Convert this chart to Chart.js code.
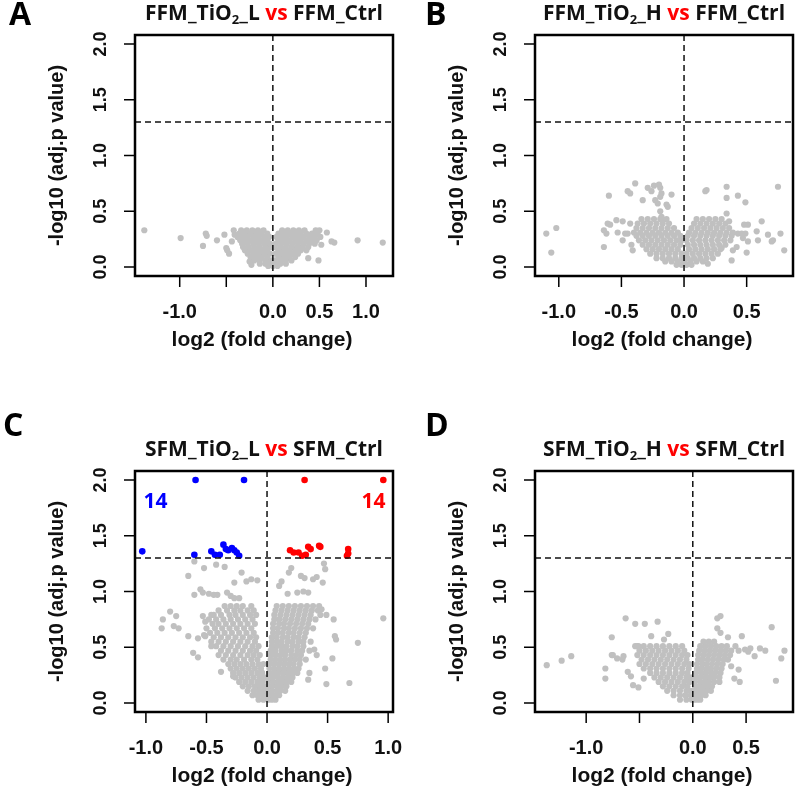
<!DOCTYPE html>
<html>
<head>
<meta charset="utf-8">
<script src="https://cdn.jsdelivr.net/npm/chart.js@4.4.1/dist/chart.umd.min.js"></script>
<style>
  body { margin: 0; background: #fff; width: 800px; height: 800px; position: relative; overflow: hidden; }
  canvas { position: absolute; }
</style>
</head>
<body>
<canvas id="pB" width="400" height="400" style="left:400px;top:0"></canvas>
<canvas id="pD" width="400" height="400" style="left:400px;top:400px"></canvas>
<canvas id="pA" width="412" height="400" style="left:0;top:0"></canvas>
<canvas id="pC" width="412" height="400" style="left:0;top:400px"></canvas>
<script>
// ---- data: dense grey clouds as [y, [x...]] rows, scattered points as [x, y] ----
const yTicks = [0, 0.5, 1.0, 1.5, 2.0];
const fcCut = 0;      // vertical dashed line (log2 fc)
const pCut = 1.3;     // horizontal dashed line (-log10 0.05)

const cloudA = [
  [0.33, [-0.34,-0.28,-0.22,-0.16,-0.10,0.10,0.16,0.22,0.28,0.34,0.46,0.50]],
  [0.30, [-0.36,-0.30,-0.24,-0.18,-0.12,-0.06,0.06,0.12,0.18,0.24,0.30,0.36,0.42,0.48]],
  [0.27, [-0.38,-0.33,-0.27,-0.21,-0.15,-0.09,-0.04,0.04,0.09,0.15,0.21,0.27,0.33,0.39,0.45,0.51]],
  [0.24, [-0.35,-0.30,-0.24,-0.18,-0.12,-0.06,0.06,0.12,0.18,0.24,0.30,0.36,0.42,0.47]],
  [0.21, [-0.33,-0.27,-0.21,-0.15,-0.09,-0.03,0.03,0.09,0.15,0.21,0.27,0.33,0.39,0.45]],
  [0.18, [-0.32,-0.26,-0.20,-0.14,-0.08,-0.02,0.02,0.08,0.14,0.20,0.26,0.32,0.38]],
  [0.15, [-0.30,-0.24,-0.18,-0.12,-0.06,0.06,0.12,0.18,0.24,0.30,0.36]],
  [0.12, [-0.27,-0.21,-0.15,-0.09,-0.03,0.03,0.09,0.15,0.21,0.27]],
  [0.09, [-0.24,-0.18,-0.12,-0.06,0.06,0.12,0.18,0.24]],
  [0.06, [-0.20,-0.14,-0.08,-0.02,0.02,0.08,0.14,0.20]],
  [0.03, [-0.14,-0.08,-0.03,0.03,0.08,0.14]],
  [0.01, [-0.05,0.00,0.05]]
];
const spreadA = [
  [-1.38,0.33],[-0.99,0.26],[-0.75,0.19],[-0.72,0.30],[-0.71,0.28],[-0.60,0.24],[-0.52,0.29],
  [-0.50,0.17],[-0.49,0.15],[-0.47,0.12],[-0.44,0.23],[-0.42,0.33],[-0.41,0.29],[-0.25,0.05],
  [-0.23,0.02],[0.58,0.31],[0.63,0.23],[0.66,0.22],[0.49,0.06],[0.52,0.20],[0.91,0.24],
  [1.18,0.22],[0.38,0.08]
];

const cloudB = [
  [0.43, [-0.34,-0.29,-0.24,-0.19,-0.14,0.10,0.15,0.20,0.25,0.30]],
  [0.39, [-0.37,-0.32,-0.27,-0.22,-0.17,-0.12,0.08,0.13,0.18,0.23,0.28,0.33]],
  [0.35, [-0.38,-0.33,-0.28,-0.23,-0.18,-0.13,-0.08,0.06,0.11,0.16,0.21,0.26,0.31,0.36]],
  [0.31, [-0.40,-0.35,-0.30,-0.25,-0.20,-0.15,-0.10,-0.05,0.04,0.09,0.14,0.19,0.24,0.29,0.34,0.39]],
  [0.28, [-0.38,-0.33,-0.28,-0.23,-0.18,-0.13,-0.08,-0.03,0.03,0.08,0.13,0.18,0.23,0.28,0.33,0.38]],
  [0.24, [-0.36,-0.31,-0.26,-0.21,-0.16,-0.11,-0.06,-0.02,0.02,0.07,0.12,0.17,0.22,0.27,0.32,0.37]],
  [0.20, [-0.33,-0.28,-0.23,-0.18,-0.13,-0.08,-0.03,0.03,0.08,0.13,0.18,0.23,0.28,0.33]],
  [0.16, [-0.30,-0.25,-0.20,-0.15,-0.10,-0.05,0.04,0.09,0.14,0.19,0.24,0.29]],
  [0.12, [-0.27,-0.22,-0.17,-0.12,-0.07,-0.02,0.02,0.07,0.12,0.17,0.22,0.27]],
  [0.08, [-0.22,-0.17,-0.12,-0.07,-0.02,0.03,0.08,0.13,0.18,0.23]],
  [0.05, [-0.15,-0.10,-0.05,0.00,0.05,0.10,0.15]],
  [0.02, [-0.06,-0.02,0.02,0.06]]
];
const spreadB = [
  [-1.10,0.30],[-1.02,0.35],[-1.06,0.13],[-0.60,0.64],[-0.64,0.33],[-0.62,0.30],[-0.64,0.18],
  [-0.61,0.39],[-0.59,0.38],[-0.54,0.42],[-0.53,0.31],[-0.49,0.41],[-0.49,0.24],[-0.47,0.30],
  [-0.45,0.30],[-0.45,0.68],[-0.43,0.66],[-0.39,0.75],[-0.42,0.20],[-0.41,0.15],[-0.43,0.39],
  [-0.33,0.60],[-0.29,0.71],[-0.26,0.68],[-0.24,0.73],[-0.20,0.74],[-0.19,0.71],[-0.23,0.60],
  [-0.21,0.57],[-0.18,0.66],[-0.19,0.63],[-0.14,0.56],[-0.13,0.54],[-0.10,0.65],[-0.19,0.50],
  [-0.18,0.45],[-0.17,0.42],[0.17,0.68],[0.18,0.69],[0.34,0.72],[0.34,0.62],[0.43,0.64],
  [0.49,0.58],[0.34,0.48],[0.36,0.41],[0.48,0.38],[0.51,0.38],[0.62,0.41],[0.75,0.72],
  [0.77,0.30],[0.80,0.15],[0.67,0.29],[0.70,0.23],[0.71,0.24],[0.58,0.32],[0.59,0.24],
  [0.50,0.13],[0.43,0.30],[0.46,0.30],[0.49,0.30],[0.51,0.23],[0.47,0.26],[0.38,0.06],
  [0.42,0.18],[0.39,0.15],[0.30,0.17],[0.19,0.03]
];

const cloudC = [
  [0.87, [-0.35,-0.30,-0.25,-0.20,-0.13,0.08,0.13,0.18,0.23,0.28,0.33,0.38,0.43]],
  [0.83, [-0.40,-0.33,-0.27,-0.22,-0.16,-0.11,0.07,0.12,0.17,0.22,0.27,0.32,0.37,0.42]],
  [0.79, [-0.46,-0.38,-0.31,-0.26,-0.20,-0.14,-0.09,0.06,0.11,0.16,0.21,0.26,0.31,0.36,0.44]],
  [0.75, [-0.48,-0.42,-0.36,-0.30,-0.24,-0.18,-0.12,0.06,0.10,0.15,0.20,0.25,0.30,0.35,0.40]],
  [0.71, [-0.45,-0.40,-0.34,-0.28,-0.22,-0.16,-0.10,0.05,0.10,0.14,0.19,0.24,0.29,0.34]],
  [0.67, [-0.50,-0.43,-0.37,-0.31,-0.25,-0.19,-0.13,0.05,0.09,0.14,0.18,0.23,0.28,0.33,0.38]],
  [0.63, [-0.47,-0.41,-0.35,-0.29,-0.23,-0.17,-0.11,0.05,0.09,0.13,0.18,0.22,0.27,0.32]],
  [0.59, [-0.44,-0.38,-0.32,-0.26,-0.20,-0.14,-0.09,0.04,0.08,0.13,0.17,0.22,0.26,0.31]],
  [0.55, [-0.46,-0.40,-0.34,-0.28,-0.22,-0.16,-0.10,0.04,0.08,0.12,0.17,0.21,0.26,0.30,0.36]],
  [0.51, [-0.42,-0.36,-0.30,-0.24,-0.18,-0.12,-0.07,0.04,0.08,0.12,0.16,0.21,0.25,0.30]],
  [0.47, [-0.38,-0.32,-0.26,-0.20,-0.14,-0.09,0.03,0.07,0.12,0.16,0.20,0.25,0.29,0.35]],
  [0.43, [-0.40,-0.34,-0.28,-0.22,-0.16,-0.11,-0.06,0.03,0.07,0.11,0.15,0.20,0.24,0.28]],
  [0.39, [-0.36,-0.30,-0.25,-0.19,-0.13,-0.08,0.03,0.07,0.11,0.15,0.19,0.23,0.27,0.32]],
  [0.35, [-0.32,-0.27,-0.22,-0.17,-0.12,-0.07,-0.03,0.02,0.06,0.10,0.14,0.18,0.22,0.27]],
  [0.31, [-0.30,-0.25,-0.20,-0.15,-0.10,-0.05,0.02,0.06,0.10,0.14,0.18,0.22,0.26]],
  [0.27, [-0.28,-0.23,-0.18,-0.13,-0.08,-0.04,0.02,0.06,0.09,0.13,0.17,0.21,0.25]],
  [0.23, [-0.26,-0.21,-0.16,-0.11,-0.06,-0.02,0.02,0.05,0.09,0.13,0.17,0.21]],
  [0.19, [-0.23,-0.18,-0.13,-0.08,-0.04,0.01,0.05,0.09,0.12,0.16,0.20]],
  [0.15, [-0.20,-0.15,-0.10,-0.06,-0.02,0.01,0.04,0.08,0.12,0.16]],
  [0.11, [-0.16,-0.11,-0.07,-0.03,0.01,0.04,0.08,0.11,0.15]],
  [0.07, [-0.12,-0.08,-0.04,-0.01,0.01,0.04,0.07,0.10]],
  [0.03, [-0.07,-0.03,0.01,0.04,0.07]]
];
const spreadC = [
  [-0.60,1.27],[-0.52,1.21],[-0.42,1.24],[-0.35,1.22],[-0.27,1.08],[-0.21,1.17],[-0.13,1.11],
  [-0.08,1.10],[-0.65,1.14],[-0.60,0.97],[-0.55,1.02],[-0.53,0.99],[-0.48,0.98],[-0.44,0.97],
  [-0.41,0.97],[-0.33,0.99],[-0.30,0.96],[-0.27,0.94],[-0.23,0.94],[-0.80,0.82],[-0.86,0.75],
  [-0.87,0.67],[-0.75,0.78],[-0.73,0.67],[-0.77,0.69],[-0.65,0.60],[-0.57,0.58],[-0.52,0.61],
  [-0.51,0.60],[-0.61,0.45],[-0.57,0.41],[-0.53,0.78],[-0.51,0.73],[-0.44,0.79],[-0.46,0.51],
  [-0.38,0.28],[-0.28,0.24],[-0.17,1.09],[0.12,1.09],[0.10,1.05],[0.18,1.17],[0.20,1.21],
  [0.28,1.14],[0.31,1.12],[0.38,1.11],[0.41,1.13],[0.46,1.08],[0.47,1.25],[0.48,1.20],
  [0.17,0.98],[0.25,0.99],[0.30,1.00],[0.34,0.99],[0.45,0.84],[0.49,0.79],[0.55,0.75],
  [0.96,0.76],[0.56,0.60],[0.57,0.57],[0.75,0.54],[0.54,0.40],[0.48,0.31],[0.49,0.17],
  [0.68,0.18],[0.39,0.48],[0.41,0.43],[0.35,0.27],[0.34,0.21]
];
const downC = [
  [-0.59,2.00],[-0.19,2.00],[-1.03,1.36],[-0.60,1.33],[-0.46,1.36],[-0.43,1.33],[-0.39,1.33],
  [-0.36,1.42],[-0.34,1.38],[-0.32,1.37],[-0.29,1.39],[-0.27,1.37],[-0.25,1.35],[-0.23,1.32]
];
const upC = [
  [0.31,2.00],[0.96,2.00],[0.19,1.37],[0.22,1.35],[0.26,1.35],[0.29,1.32],[0.32,1.33],
  [0.34,1.40],[0.36,1.38],[0.43,1.41],[0.44,1.40],[0.67,1.38],[0.67,1.34],[0.66,1.32]
];

const cloudD = [
  [0.55, [0.10,0.15,0.20]],
  [0.51, [-0.52,-0.46,-0.40,-0.34,-0.28,-0.22,-0.16,-0.10,0.07,0.12,0.17,0.22,0.27,0.32,0.40]],
  [0.47, [-0.50,-0.44,-0.38,-0.32,-0.26,-0.20,-0.14,-0.08,0.06,0.11,0.16,0.21,0.26,0.31,0.36,0.43]],
  [0.43, [-0.52,-0.46,-0.40,-0.34,-0.28,-0.22,-0.16,-0.10,-0.05,0.05,0.10,0.15,0.20,0.25,0.30,0.35]],
  [0.39, [-0.48,-0.42,-0.36,-0.30,-0.24,-0.18,-0.12,-0.06,0.05,0.09,0.14,0.19,0.24,0.29]],
  [0.35, [-0.50,-0.44,-0.38,-0.32,-0.26,-0.20,-0.14,-0.08,-0.03,0.04,0.09,0.13,0.18,0.23,0.28]],
  [0.31, [-0.46,-0.40,-0.34,-0.28,-0.22,-0.16,-0.10,-0.04,0.04,0.08,0.13,0.17,0.22,0.27]],
  [0.27, [-0.40,-0.34,-0.28,-0.22,-0.16,-0.10,-0.05,0.03,0.08,0.12,0.17,0.21,0.26]],
  [0.23, [-0.36,-0.30,-0.24,-0.18,-0.12,-0.06,-0.02,0.03,0.07,0.12,0.16,0.20,0.25]],
  [0.19, [-0.32,-0.26,-0.20,-0.14,-0.08,-0.03,0.02,0.07,0.11,0.15,0.20,0.25]],
  [0.15, [-0.28,-0.22,-0.16,-0.10,-0.05,0.02,0.06,0.10,0.14,0.18]],
  [0.11, [-0.24,-0.18,-0.12,-0.06,-0.02,0.01,0.05,0.09,0.13,0.17]],
  [0.07, [-0.18,-0.12,-0.07,-0.02,0.01,0.04,0.08,0.12]],
  [0.03, [-0.12,-0.06,-0.01,0.01,0.04,0.07]]
];
const spreadD = [
  [-1.37,0.34],[-1.23,0.38],[-1.14,0.42],[-0.82,0.31],[-0.82,0.22],[-0.76,0.59],[-0.76,0.43],
  [-0.75,0.43],[-0.71,0.40],[-0.65,0.42],[-0.66,0.39],[-0.63,0.76],[-0.54,0.71],[-0.45,0.71],
  [-0.33,0.73],[-0.61,0.28],[-0.58,0.24],[-0.56,0.16],[-0.51,0.14],[-0.54,0.51],[-0.51,0.51],
  [-0.39,0.60],[-0.27,0.57],[-0.23,0.62],[-0.46,0.22],[0.23,0.76],[0.26,0.78],[0.23,0.67],
  [0.26,0.63],[0.33,0.59],[0.46,0.60],[0.74,0.68],[0.86,0.47],[0.83,0.40],[0.78,0.20],
  [0.68,0.47],[0.63,0.49],[0.58,0.42],[0.52,0.46],[0.49,0.48],[0.54,0.49],[0.43,0.30],
  [0.39,0.22],[0.44,0.19],[0.33,0.39],[0.36,0.33]
];

// ---- helpers ----
function toPoints(rows, spread) {
  const pts = [];
  rows.forEach(([y, xs]) => xs.forEach(x => pts.push({ x: x, y: y })));
  spread.forEach(([x, y]) => pts.push({ x: x, y: y }));
  return pts;
}
function pairs(list) { return list.map(([x, y]) => ({ x: x, y: y })); }

const xTickFont = 'bold 20px "Liberation Sans", Arial, sans-serif';
const yTickFont = 'bold 18px "Liberation Sans", Arial, sans-serif';
const xTitleFont = 'bold 21px "Liberation Sans", Arial, sans-serif';
const yTitleFont = 'bold 20px "Liberation Sans", Arial, sans-serif';

const framePlugin = {
  id: 'frame',
  afterDatasetsDraw(chart, args, o) {
    const ctx = chart.ctx;
    const xs = chart.scales.x, ys = chart.scales.y;
    const a = chart.chartArea;
    ctx.save();
    // threshold lines
    ctx.strokeStyle = '#111';
    ctx.lineWidth = 1.5;
    ctx.setLineDash([6, 4]);
    const vx = xs.getPixelForValue(fcCut);
    const hy = ys.getPixelForValue(pCut);
    ctx.beginPath();
    ctx.moveTo(vx, a.top); ctx.lineTo(vx, a.bottom);
    ctx.moveTo(a.left, hy); ctx.lineTo(a.right, hy);
    ctx.stroke();
    ctx.setLineDash([]);
    // box
    ctx.strokeStyle = '#000';
    ctx.lineWidth = 2.5;
    ctx.strokeRect(a.left, a.top, a.right - a.left, a.bottom - a.top);
    // tick marks
    ctx.lineWidth = 1.5;
    ctx.beginPath();
    yTicks.forEach(v => {
      const p = ys.getPixelForValue(v);
      ctx.moveTo(a.left - 11, p); ctx.lineTo(a.left, p);
    });
    o.xTicks.forEach(v => {
      const p = xs.getPixelForValue(v);
      ctx.moveTo(p, a.bottom); ctx.lineTo(p, a.bottom + 11);
    });
    ctx.stroke();
    // tick labels
    ctx.fillStyle = '#111';
    ctx.textAlign = 'center';
    ctx.textBaseline = 'middle';
    ctx.font = yTickFont;
    yTicks.forEach(v => {
      ctx.save();
      ctx.translate(a.left - 35, ys.getPixelForValue(v));
      ctx.rotate(-Math.PI / 2);
      ctx.fillText(v.toFixed(1), 0, 1);
      ctx.restore();
    });
    ctx.font = xTickFont;
    o.xLabels.forEach(v => {
      ctx.fillText(v.toFixed(1), xs.getPixelForValue(v), a.bottom + 36);
    });
    // axis titles
    ctx.font = xTitleFont;
    ctx.fillText('log2 (fold change)', (a.left + a.right) / 2 - 2, a.bottom + 64);
    ctx.font = yTitleFont;
    ctx.save();
    ctx.translate(57, (a.top + a.bottom) / 2);
    ctx.rotate(-Math.PI / 2);
    ctx.fillText('-log10 (adj.p value)', 0, 0);
    ctx.restore();
    // title with subscript and red "vs"
    const big = 'bold 21px "Open Sans", sans-serif';
    const small = 'bold 13px "Open Sans", sans-serif';
    const parts = [
      [o.group + '_TiO', big, '#111', 0],
      ['2', small, '#111', 6],
      ['_' + o.dose + ' ', big, '#111', 0],
      ['vs', big, '#ff0000', 0],
      [' ' + o.group + '_Ctrl', big, '#111', 0]
    ];
    let w = 0;
    parts.forEach(p => { ctx.font = p[1]; w += ctx.measureText(p[0]).width; });
    let tx = (a.left + a.right) / 2 - w / 2;
    const ty = a.top - 21;
    ctx.textAlign = 'left';
    ctx.textBaseline = 'middle';
    parts.forEach(p => {
      ctx.font = p[1];
      ctx.fillStyle = p[2];
      ctx.fillText(p[0], tx, ty + p[3]);
      tx += ctx.measureText(p[0]).width;
    });
    // panel letter
    ctx.font = 'bold 32px "Open Sans", sans-serif';
    ctx.fillStyle = '#000';
    ctx.fillText(o.letter, o.letterX, o.letterY);
    // counts
    if (o.counts) {
      ctx.font = 'bold 21px "Open Sans", sans-serif';
      ctx.textAlign = 'center';
      o.counts.forEach(c => {
        ctx.fillStyle = c.color;
        ctx.fillText(c.text, xs.getPixelForValue(c.x), ys.getPixelForValue(c.y));
      });
    }
    ctx.restore();
  }
};

function makePanel(id, cfg) {
  const canvas = document.getElementById(id);
  const datasets = [{
    data: cfg.grey,
    backgroundColor: '#c0c0c0',
    borderWidth: 0,
    pointRadius: 3.1,
    pointStyle: 'circle'
  }];
  (cfg.extra || []).forEach(e => datasets.push({
    data: e.data,
    backgroundColor: e.color,
    borderWidth: 0,
    pointRadius: 3.3,
    pointStyle: 'circle'
  }));
  return new Chart(canvas, {
    type: 'scatter',
    data: { datasets: datasets },
    options: {
      responsive: false,
      animation: false,
      devicePixelRatio: 1,
      layout: { padding: { left: 135, right: canvas.width - 393, top: cfg.top, bottom: 400 - cfg.bottom } },
      scales: {
        x: { display: false, min: cfg.xMin, max: cfg.xMax },
        y: { display: false, min: -0.08, max: 2.08 }
      },
      plugins: {
        legend: { display: false },
        tooltip: { enabled: false },
        frame: cfg.frame
      }
    },
    plugins: [framePlugin]
  });
}

makePanel('pA', {
  grey: toPoints(cloudA, spreadA), top: 35, bottom: 276, xMin: -1.48, xMax: 1.29,
  frame: { group: 'FFM', dose: 'L', letter: 'A', letterX: 9, letterY: 16,
    xTicks: [-1, -0.5, 0, 0.5, 1], xLabels: [-1, 0, 0.5, 1] }
});
makePanel('pB', {
  grey: toPoints(cloudB, spreadB), top: 35, bottom: 276, xMin: -1.19, xMax: 0.87,
  frame: { group: 'FFM', dose: 'H', letter: 'B', letterX: 25, letterY: 16,
    xTicks: [-1, -0.5, 0, 0.5], xLabels: [-1, -0.5, 0, 0.5] }
});
makePanel('pC', {
  grey: toPoints(cloudC, spreadC), top: 71, bottom: 312, xMin: -1.09, xMax: 1.04,
  extra: [{ data: pairs(downC), color: '#0000ff' }, { data: pairs(upC), color: '#ff0000' }],
  frame: { group: 'SFM', dose: 'L', letter: 'C', letterX: 3, letterY: 27,
    xTicks: [-1, -0.5, 0, 0.5, 1], xLabels: [-1, -0.5, 0, 0.5, 1],
    counts: [{ text: '14', x: -0.92, y: 1.8, color: '#0000ff' }, { text: '14', x: 0.88, y: 1.8, color: '#ff0000' }] }
});
makePanel('pD', {
  grey: toPoints(cloudD, spreadD), top: 71, bottom: 312, xMin: -1.48, xMax: 0.94,
  frame: { group: 'SFM', dose: 'H', letter: 'D', letterX: 25, letterY: 27,
    xTicks: [-1, -0.5, 0, 0.5], xLabels: [-1, 0, 0.5] }
});
</script>
</body>
</html>
